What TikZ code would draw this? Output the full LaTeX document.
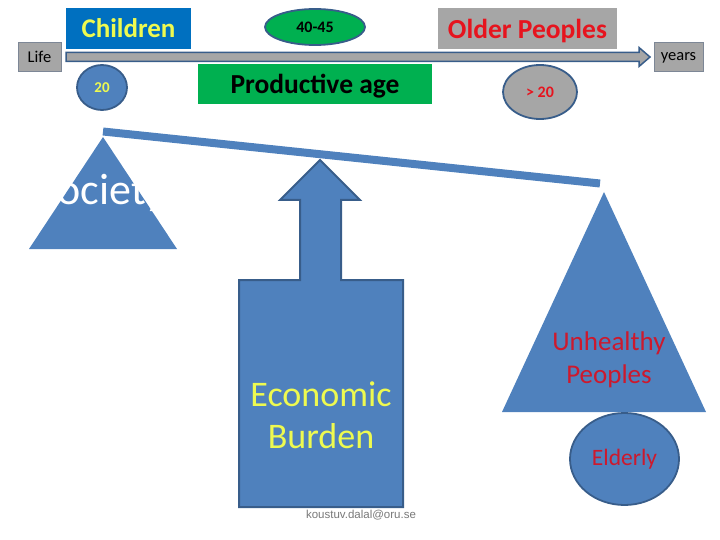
\documentclass[tikz,border=0pt]{standalone}
\usepackage{fontspec}
\setmainfont{Carlito}
\newfontfamily\mailfont{Liberation Sans}
\usetikzlibrary{shapes.geometric}
\definecolor{pblue}{RGB}{79,129,189}
\definecolor{dblue}{RGB}{56,93,138}
\definecolor{cblue}{RGB}{0,112,192}
\definecolor{pgreen}{RGB}{0,176,80}
\definecolor{pgray}{RGB}{166,166,166}
\definecolor{bgray}{RGB}{125,135,150}
\definecolor{pyellow}{RGB}{238,250,80}
\definecolor{pred}{RGB}{230,20,30}
\definecolor{dred}{RGB}{205,25,45}
\definecolor{mailgray}{RGB}{120,120,120}
\newcommand{\fsz}[1]{\fontsize{#1}{#1}\selectfont}
\tikzset{
  graybox/.style={rectangle, fill=pgray, draw=bgray, line width=0.8pt, inner sep=0pt, text depth=0pt},
  bluebub/.style={ellipse, fill=pblue, draw=dblue, line width=1.8pt, inner sep=0pt},
  flatbox/.style={rectangle, inner sep=0pt, text depth=0pt},
}
\begin{document}
\begin{tikzpicture}[x=1pt,y=-1pt]
\useasboundingbox (0,0) rectangle (720,540);
% timeline
\node[graybox, minimum width=43, minimum height=29, font=\fsz{16.5}] (life) at (39.5,56.5) {Life};
\node[graybox, minimum width=49, minimum height=29, font=\fsz{16.5}] (years) at (678.5,56.5) {years};
\filldraw[fill=pgray, draw=dblue, line width=1.5pt]
  (66,52.5) -- (639,52.5) -- (639,47.5) -- (650,57) -- (639,66.5) -- (639,61.5) -- (66,61.5) -- cycle;
% top labels
\node[flatbox, fill=cblue, minimum width=125, minimum height=41, text=pyellow, font=\fsz{27}\bfseries] (children) at (128.5,28.5) {Children};
\node[bluebub, fill=pgreen, minimum width=100, minimum height=36, font=\fsz{16}\bfseries] (age1) at (315,27) {40-45};
\node[flatbox, fill=pgray, minimum width=179, minimum height=41, text=pred, font=\fsz{27.5}\bfseries] (older) at (527.5,28.5) {Older Peoples};
\node[bluebub, minimum width=50, minimum height=45, text=pyellow, font=\fsz{15}\bfseries] (twenty) at (102,87.5) {20};
\node[flatbox, fill=pgreen, minimum width=234, minimum height=40, font=\fsz{27.5}\bfseries] (prod) at (315,84) {Productive age};
\node[bluebub, fill=pgray, minimum width=74, minimum height=54, text=pred, font=\fsz{16}\bfseries] (gt) at (540,92) {> 20};
% balance beam
\draw[pblue, line width=8pt] (103,131.5) -- (600,183.5);
% left triangle (society)
\fill[pblue] (103,137) -- (177,249) -- (29,249) -- cycle;
\node[anchor=base, text=white, font=\fsz{44}, inner sep=0pt] (society) at (101.5,205) {Society};
% right triangle
\fill[pblue] (604,192) -- (706,412) -- (502,412) -- cycle;
\node[align=center, text=dred, font=\fontsize{27}{33}\selectfont, inner sep=0pt] (unh) at (609,360) {Unhealthy\\Peoples};
\node[bluebub, minimum width=109, minimum height=92, text=dred, font=\fsz{23.5}] (elderly) at (624.5,459) {Elderly};
% up arrow with burden block
\filldraw[fill=pblue, draw=dblue, line width=2pt]
  (320,160) -- (360,200) -- (341,200) -- (341,280) -- (403,280) -- (403,507)
  -- (239,507) -- (239,280) -- (300,280) -- (300,200) -- (280,200) -- cycle;
\node[align=center, text=pyellow, font=\fontsize{36}{42}\selectfont, inner sep=0pt] (burden) at (321,415) {Economic\\Burden};
\node[anchor=base, text=mailgray, font=\mailfont\fsz{11.5}, inner sep=0pt] (mail) at (361,518) {koustuv.dalal@oru.se};
\end{tikzpicture}
\end{document}
